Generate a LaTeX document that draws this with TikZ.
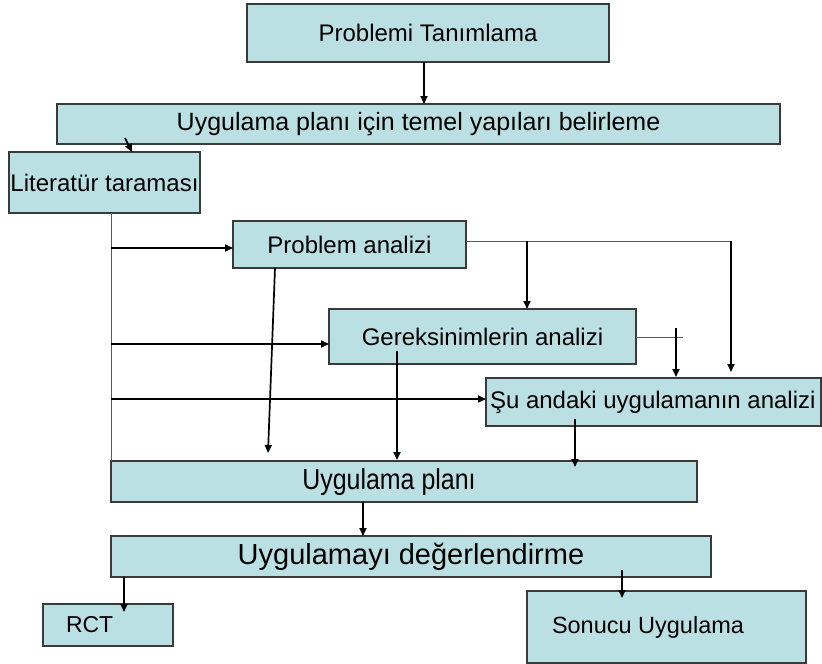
\documentclass[tikz,border=0pt]{standalone}
\usepackage{fontspec}
\usepackage{graphicx}
\setmainfont{Liberation Sans}
\usetikzlibrary{arrows.meta}
\definecolor{boxfill}{HTML}{BBE0E3}
\definecolor{boxline}{HTML}{3A3A3A}
\begin{document}
\begin{tikzpicture}[x=1pt,y=-1pt,
  box/.style={draw=boxline, fill=boxfill, line width=1.1pt, inner sep=0pt, outer sep=0pt,
              font=\fontsize{24}{28}\selectfont},
  bigtext/.style={font=\fontsize{29}{33}\selectfont},
  arr/.style={line width=1.7pt, draw=black, -{Triangle[length=8pt,width=7pt]}},
  thinline/.style={line width=0.9pt, draw=black!65}]
\useasboundingbox (0,0) rectangle (822,664);

% boxes
\node[box, minimum width=362pt, minimum height=58pt] (pt) at (428,33) {Problemi Tanımlama};
\node[box, minimum width=723pt, minimum height=40pt, font=\fontsize{25}{29}\selectfont] (up) at (418.5,124) {Uygulama planı için temel yapıları belirleme};
\node[box, minimum width=191pt, minimum height=61pt] (lt) at (104.5,182.5) {Literatür taraması};
\node[box, minimum width=233pt, minimum height=47pt] (pa) at (349.5,244.5) {Problem analizi};
\node[box, minimum width=307pt, minimum height=55pt] (ga) at (482.5,336.5) {Gereksinimlerin analizi};
\node[box, minimum width=335pt, minimum height=48pt, inner xsep=4pt] (sa) at (653.5,402) {\makebox[327pt][l]{Şu andaki uygulamanın analizi}};
\node[box, bigtext, minimum width=586pt, minimum height=41pt] (pl) at (404,481.5) {\hspace*{-30pt}\scalebox{0.86}[1]{Uygulama planı}};
\node[box, bigtext, minimum width=600pt, minimum height=41pt] (ud) at (411,556.5) {Uygulamayı değerlendirme};
\node[box, minimum width=130pt, minimum height=42pt, inner xsep=23pt, font=\fontsize{23}{27}\selectfont] (rct) at (108,625) {\makebox[84pt][l]{RCT}};
\node[box, minimum width=279pt, minimum height=72pt, inner xsep=25pt, font=\fontsize{23.5}{27}\selectfont] (su) at (666.5,627) {\makebox[229pt][l]{Sonucu Uygulama}};

% free-end coordinates
\coordinate (b1) at (111,248);
\coordinate (b2) at (111,344);
\coordinate (b3) at (111,399);
\coordinate (cr) at (731,241);
\coordinate (cb) at (527,241);
\coordinate (ge) at (683,337);
\coordinate (gv) at (676,328);

% connectors
\draw[arr] ([xshift=-4pt]pt.south) -- ([xshift=5.5pt]up.north);
\draw[arr] ([xshift=-293.5pt,yshift=6pt]up.south) -- ([xshift=27.5pt]lt.north);

\draw[thinline] ([xshift=6.5pt]lt.south) -- (pl.north west);
\draw[arr] (b1) -- ([yshift=-3.5pt]pa.west);
\draw[arr] (b2) -- ([yshift=-7.5pt]ga.west);
\draw[arr] (b3) -- ([yshift=3pt]sa.west);

\draw[thinline] ([yshift=3.5pt]pa.east) -- (cr);
\draw[arr] (cr) -- ([xshift=77.5pt,yshift=6pt]sa.north);
\draw[arr] (cb) -- ([xshift=44.5pt]ga.north);
\draw[arr] ([xshift=-74.5pt]pa.south) -- ([xshift=-136pt,yshift=8pt]pl.north);

\draw[thinline] ([yshift=-0.5pt]ga.east) -- (ge);
\draw[arr] (gv) -- ([xshift=22.5pt,yshift=1pt]sa.north);
\draw[arr] ([xshift=-85.5pt,yshift=-14.5pt]ga.center) -- ([xshift=-7pt,yshift=1pt]pl.north);

\draw[arr] ([xshift=-78.5pt,yshift=7pt]sa.south) -- ([xshift=171pt,yshift=-6pt]pl.north);
\draw[arr] ([xshift=-41pt]pl.south) -- ([xshift=-48pt]ud.north);
\draw[arr] ([xshift=13pt]ud.south west) -- ([xshift=16pt,yshift=-8pt]rct.north);
\draw[arr] ([xshift=211pt,yshift=7pt]ud.south) -- ([xshift=-44.5pt,yshift=-7pt]su.north);
\end{tikzpicture}
\end{document}
